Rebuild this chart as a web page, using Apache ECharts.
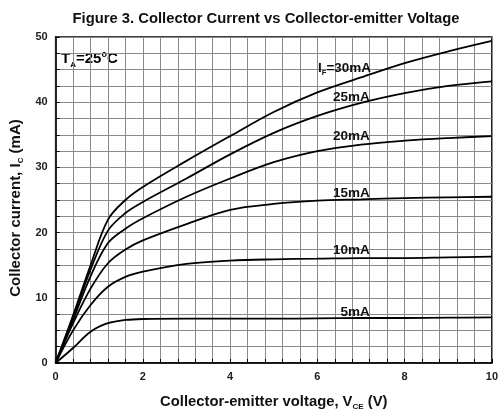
<!DOCTYPE html>
<html>
<head>
<meta charset="utf-8">
<script src="https://cdn.jsdelivr.net/npm/echarts@6/dist/echarts.min.js"></script>
<style>
  html, body { margin: 0; padding: 0; background: #fff; }
  #chart { width: 501px; height: 416px; }
</style>
</head>
<body>
<div id="chart"></div>
<script>
// collector-emitter voltage (V)
var vce = [0, 0.4, 0.8, 1.2, 1.6, 2, 3, 4, 5, 6, 7, 8, 9, 10];
// collector current (mA) for each forward current
var ic5  = [0, 2.3, 4.8, 6.1, 6.6, 6.75, 6.8, 6.8, 6.8, 6.85, 6.9, 6.9, 6.95, 7.0];
var ic10 = [0, 5.0, 8.9, 11.7, 13.2, 14.0, 15.2, 15.7, 15.9, 16.0, 16.1, 16.1, 16.2, 16.3];
var ic15 = [0, 6.1, 11.4, 15.3, 17.4, 18.8, 21.3, 23.5, 24.4, 24.9, 25.1, 25.3, 25.4, 25.5];
var ic20 = [0, 6.6, 13.3, 18.4, 20.6, 22.2, 25.5, 28.3, 30.8, 32.5, 33.5, 34.1, 34.5, 34.8];
var ic25 = [0, 7.0, 14.3, 20.3, 23.0, 24.7, 28.3, 32.0, 35.3, 37.9, 39.9, 41.4, 42.5, 43.2];
var ic30 = [0, 7.3, 15.0, 22.0, 25.0, 27.0, 31.0, 34.8, 38.5, 41.5, 43.8, 46.0, 47.8, 49.4];
// tick labels
var xTickLabels = [0, 2, 4, 6, 8, 10];
var yTickLabels = [0, 10, 20, 30, 40, 50];

var font = '"Liberation Sans", Arial, sans-serif';

function pairs(ys) {
  return vce.map(function (v, i) { return [v, ys[i]]; });
}
function showIf(list) {
  return function (v) {
    for (var i = 0; i < list.length; i++) {
      if (Math.abs(v - list[i]) < 1e-6) return String(list[i]);
    }
    return '';
  };
}
var labelRich = {
  b: { fontFamily: font, fontWeight: 'bold', fontSize: 13.5, color: '#111' },
  s: { fontFamily: font, fontWeight: 'bold', fontSize: 7.5, color: '#111', padding: [10, 0, 0, 0] }
};
// labels are right-aligned at the curve-label column
function curve(name, ys, coord, text) {
  return {
    name: name,
    type: 'line',
    data: pairs(ys),
    smooth: 0.35,
    symbol: 'none',
    lineStyle: { color: '#000', width: 1.8 },
    markPoint: {
      symbol: 'circle',
      symbolSize: 0,
      silent: true,
      label: {
        show: true,
        position: 'left',
        distance: 0,
        formatter: text,
        rich: labelRich
      },
      data: [{ coord: coord }]
    }
  };
}

var myChart = echarts.init(document.getElementById('chart'));
myChart.setOption({
  animation: false,
  backgroundColor: '#fff',
  title: {
    text: 'Figure 3. Collector Current vs Collector-emitter Voltage',
    left: 261,
    textAlign: 'center',
    top: 6,
    textStyle: { fontFamily: font, fontWeight: 'bold', fontSize: 14.8, color: '#111' }
  },
  grid: {
    left: 55,
    right: 5,
    top: 37,
    bottom: 53,
    show: true,
    borderColor: '#000',
    borderWidth: 1.5
  },
  xAxis: {
    type: 'value',
    min: 0,
    max: 10,
    interval: 0.4,
    name: '{b|Collector-emitter voltage, V}{s|CE}{b| (V)}',
    nameLocation: 'middle',
    nameGap: 30,
    nameTextStyle: {
      rich: {
        b: { fontFamily: font, fontWeight: 'bold', fontSize: 14.8, color: '#111' },
        s: { fontFamily: font, fontWeight: 'bold', fontSize: 8, color: '#111', padding: [10, 0, 0, 0] }
      }
    },
    axisLine: { show: true, lineStyle: { color: '#000', width: 1.5 } },
    axisTick: { show: true, inside: true, length: 4, lineStyle: { color: '#000' } },
    axisLabel: {
      formatter: showIf(xTickLabels),
      showMaxLabel: true,
      margin: 8,
      fontFamily: font, fontWeight: 'bold', fontSize: 11, color: '#222'
    },
    splitLine: { show: true, lineStyle: { color: '#8a8a8a', width: 1 } }
  },
  yAxis: {
    type: 'value',
    min: 0,
    max: 50,
    interval: 2.5,
    name: '{b|Collector current, I}{s|C}{e| (mA)}',
    nameLocation: 'middle',
    nameGap: 29,
    nameTextStyle: {
      rich: {
        b: { fontFamily: font, fontWeight: 'bold', fontSize: 15, color: '#111' },
        e: { fontFamily: font, fontWeight: 'bold', fontSize: 15, color: '#111', padding: [0, 16, 0, 0] },
        s: { fontFamily: font, fontWeight: 'bold', fontSize: 8, color: '#111', padding: [10, 0, 0, 0] }
      }
    },
    axisLine: { show: true, lineStyle: { color: '#000', width: 1.5 } },
    axisTick: { show: true, inside: true, length: 4, lineStyle: { color: '#000' } },
    axisLabel: {
      formatter: showIf(yTickLabels),
      margin: 8,
      fontFamily: font, fontWeight: 'bold', fontSize: 11, color: '#222'
    },
    splitLine: { show: true, lineStyle: { color: '#8a8a8a', width: 1 } }
  },
  series: [
    curve('30mA', ic30, [7.23, 45.2], '{b|I}{s|F}{b|=30mA}'),
    curve('25mA', ic25, [7.2, 40.8], '{b|25mA}'),
    curve('20mA', ic20, [7.2, 34.8], '{b|20mA}'),
    curve('15mA', ic15, [7.2, 26.1], '{b|15mA}'),
    curve('10mA', ic10, [7.2, 17.3], '{b|10mA}'),
    curve('5mA', ic5, [7.2, 7.8], '{b|5mA}')
  ],
  graphic: [{
    type: 'text',
    left: 61,
    top: 50,
    style: {
      text: '{b|T}{s|A}{b|=25}{o|o}{b|C}',
      rich: {
        b: { fontFamily: font, fontWeight: 'bold', fontSize: 15, color: '#111' },
        s: { fontFamily: font, fontWeight: 'bold', fontSize: 8, color: '#111', padding: [12, 0, 0, 0] },
        o: { fontFamily: font, fontWeight: 'bold', fontSize: 9, color: '#111', padding: [0, 0, 8, 0] }
      }
    }
  }]
});
</script>
</body>
</html>
